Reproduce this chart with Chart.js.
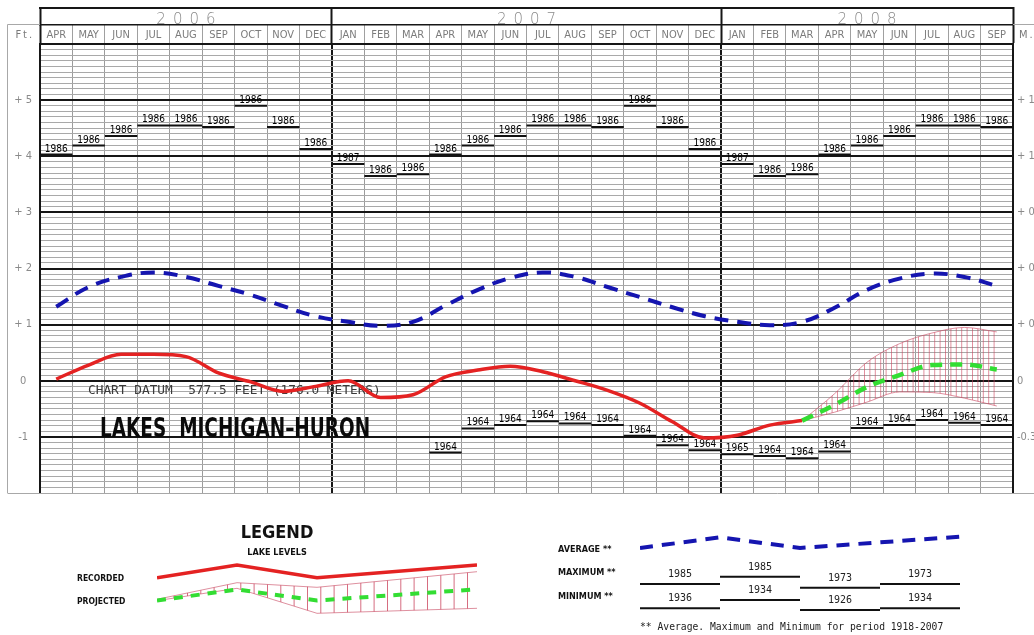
<!DOCTYPE html>
<html>
<head>
<meta charset="utf-8">
<script src="https://cdn.jsdelivr.net/npm/chart.js@4.4.1/dist/chart.umd.min.js"></script>
<style>
html, body { margin: 0; padding: 0; background: #fff; }
#wrap { position: relative; width: 1034px; height: 635px; overflow: hidden; background: #fff; }
canvas { position: absolute; }
.lg { position: absolute; white-space: nowrap; line-height: 1; color: #111;
      font-family: "Liberation Sans Narrow", "DejaVu Sans Condensed", Arial, sans-serif; font-weight: bold; }
.note { position: absolute; white-space: nowrap; line-height: 1; color: #222;
      font-family: "DejaVu Sans Mono", monospace; font-size: 9.7px; }
</style>
</head>
<body>
<div id="wrap">
  <canvas id="main" width="1034" height="635" style="left:0;top:0"></canvas>
  <canvas id="legL" width="340" height="65" style="left:147px;top:555px"></canvas>
  <canvas id="legR" width="340" height="95" style="left:630px;top:525px"></canvas>

  <div class="lg" style="left:177px;width:200px;text-align:center;top:522.5px;font-size:18px;">LEGEND</div>
  <div class="lg" style="left:177px;width:200px;text-align:center;top:547.6px;font-size:9px;">LAKE LEVELS</div>
  <div class="lg" style="left:77px;top:573.8px;font-size:8.5px;">RECORDED</div>
  <div class="lg" style="left:77px;top:596.8px;font-size:8.5px;">PROJECTED</div>
  <div class="lg" style="left:558px;top:544.6px;font-size:9px;">AVERAGE **</div>
  <div class="lg" style="left:558px;top:568.1px;font-size:9px;">MAXIMUM **</div>
  <div class="lg" style="left:558px;top:591.6px;font-size:9px;">MINIMUM **</div>
  <div class="note" style="left:640px;top:622px;">** Average. Maximum and Minimum for period 1918-2007</div>
</div>

<script>
// ---------------- DATA ----------------
const months = ['APR','MAY','JUN','JUL','AUG','SEP','OCT','NOV','DEC',
                'JAN','FEB','MAR','APR','MAY','JUN','JUL','AUG','SEP','OCT','NOV','DEC',
                'JAN','FEB','MAR','APR','MAY','JUN','JUL','AUG','SEP'];
const years = ['2006', '2007', '2008'];
const yearStartIdx = [0, 9, 21];

const feetTicks   = [-1, 0, 1, 2, 3, 4, 5];
const feetLabels  = ['-1', '0', '+ 1', '+ 2', '+ 3', '+ 4', '+ 5'];
const meterLabels = ['-0.30', '0', '+ 0.30', '+ 0.61', '+ 0.91', '+ 1.22', '+ 1.52'];

// long-term average (blue dashed), one value per month
const average = [1.32, 1.67, 1.85, 1.93, 1.85, 1.69, 1.53, 1.33, 1.15,
                 1.05, 0.98, 1.05, 1.34, 1.62, 1.83, 1.93, 1.85, 1.67, 1.49, 1.31, 1.15,
                 1.05, 0.99, 1.05, 1.30, 1.62, 1.82, 1.91, 1.85, 1.69];

// recorded levels (red), Apr 2006 .. Mar 2008
const recorded = [0.03, 0.28, 0.47, 0.47, 0.43, 0.14, -0.02, -0.19, -0.10,
                  0.00, -0.30, -0.25, 0.07, 0.19, 0.26, 0.16, 0.00, -0.17, -0.40, -0.73, -1.02,
                  -0.97, -0.79, -0.71];

// projection, Mar 2008 .. Sep 2008
const projStartIdx = 23;
const projected = [-0.71, -0.43, -0.11, 0.10, 0.28, 0.29, 0.20];
const projUpper = [-0.71, -0.23, 0.33, 0.66, 0.85, 0.95, 0.87];
const projLower = [-0.71, -0.56, -0.38, -0.20, -0.21, -0.31, -0.45];

// record maximum / minimum per month
const maxLevels = [4.03, 4.19, 4.36, 4.55, 4.55, 4.52, 4.90, 4.52, 4.13,
                   3.86, 3.65, 3.68, 4.03, 4.19, 4.36, 4.55, 4.55, 4.52, 4.90, 4.52, 4.13,
                   3.86, 3.65, 3.68, 4.03, 4.19, 4.36, 4.55, 4.55, 4.52];
const maxYears = ['1986','1986','1986','1986','1986','1986','1986','1986','1986',
                  '1987','1986','1986','1986','1986','1986','1986','1986','1986','1986','1986','1986',
                  '1987','1986','1986','1986','1986','1986','1986','1986','1986'];
const minLevels = [null, null, null, null, null, null, null, null, null,
                   null, null, null, -1.28, -0.85, -0.79, -0.72, -0.76, -0.79, -0.98, -1.15, -1.24,
                   -1.31, -1.34, -1.38, -1.26, -0.84, -0.79, -0.70, -0.75, -0.79];
const minYears = ['', '', '', '', '', '', '', '', '',
                  '', '', '', '1964','1964','1964','1964','1964','1964','1964','1964','1964',
                  '1965','1964','1964','1964','1964','1964','1964','1964','1964'];

// legend samples
const legendX          = [0, 1, 2, 4];
const legendRecorded   = [37.3, 50, 37.3, 50];
const legendProjected  = [14.5, 25.5, 14.5, 25.7];
const legendProjUpper  = [15.7, 32.3, 27.7, 43.3];
const legendProjLower  = [14.3, 26.7, 1.7, 6.7];
const legendAvgX       = [0, 1, 2, 4];
const legendAverage    = [72, 82.7, 72, 83.3];
const legendMax        = [36, 43.3, 32.3, 36];
const legendMaxYears   = ['1985', '1985', '1973', '1973'];
const legendMin        = [11.7, 20, 10, 11.7];
const legendMinYears   = ['1936', '1934', '1926', '1934'];

// ---------------- STYLE ----------------
const NARROW = '"Liberation Sans Narrow", "DejaVu Sans Condensed", Arial, sans-serif';
const COND = '"DejaVu Sans Condensed", "DejaVu Sans", sans-serif';
const RED = '#e42222', BLUE = '#1515b0', GREEN = '#33dd33', PINK = 'rgba(200,70,95,0.6)';
const MAJOR = '#161616', MINOR = '#a9a9a9';

function hatch(ctx, period, count, color, h) {
  const c = document.createElement('canvas');
  c.width = Math.round(period * count); c.height = h;
  const g = c.getContext('2d');
  g.strokeStyle = color; g.lineWidth = 1;
  for (let k = 0; k < count; k++) {
    const x = k * period + 0.5;
    g.beginPath(); g.moveTo(x, 0); g.lineTo(x, h); g.stroke();
  }
  return ctx.createPattern(c, 'repeat');
}

function segPoints(levels) {
  const pts = [];
  levels.forEach((v, i) => {
    if (v === null) return;
    pts.push({x: i, y: v}, {x: i + 1, y: v}, {x: i + 1, y: null});
  });
  return pts;
}

const yearBoundaries = yearStartIdx.concat([months.length]);
const yearCenters = yearStartIdx.map((s, i) => (s + yearBoundaries[i + 1]) / 2);
const isBoundary = v => yearBoundaries.some(b => Math.abs(b - v) < 1e-6);
const isMajorFt = v => Math.abs(v - Math.round(v)) < 1e-6 && v >= -1.001 && v <= 5.001;

// ---------------- PLUGINS ----------------
const textPlugin = {
  id: 'chartTexts',
  beforeDatasetsDraw(chart) {
    const {ctx, scales: {x, y}} = chart;
    ctx.save();
    // chart datum note
    ctx.font = '12.8px "DejaVu Sans Mono", monospace';
    ctx.fillStyle = '#3a3a3a';
    ctx.textAlign = 'left'; ctx.textBaseline = 'middle';
    ctx.fillText('CHART DATUM  577.5 FEET (176.0 METERS)', x.getPixelForValue(1.48), y.getPixelForValue(-0.18));
    // title
    ctx.font = 'bold 26px ' + NARROW;
    ctx.fillStyle = '#0a0a0a';
    ctx.textBaseline = 'alphabetic';
    const title = 'LAKES  MICHIGAN\u2013HURON';
    const x0 = x.getPixelForValue(1.85), x1 = x.getPixelForValue(10.18);
    const w = ctx.measureText(title).width;
    ctx.translate(x0, y.getPixelForValue(-1.0));
    ctx.scale((x1 - x0) / w, 1);
    ctx.fillText(title, 0, 0);
    ctx.restore();

    // year labels of max / min segments
    ctx.save();
    ctx.font = '10px ' + NARROW;
    ctx.fillStyle = '#000';
    ctx.textAlign = 'center'; ctx.textBaseline = 'alphabetic';
    maxLevels.forEach((v, i) => {
      if (v === null) return;
      ctx.fillText(maxYears[i], x.getPixelForValue(i + 0.5), y.getPixelForValue(v) - 3);
    });
    minLevels.forEach((v, i) => {
      if (v === null) return;
      ctx.fillText(minYears[i], x.getPixelForValue(i + 0.5), y.getPixelForValue(v) - 3);
    });
    ctx.restore();
  }
};

const framePlugin = {
  id: 'frame',
  afterLayout(chart) {
    const s = chart.scales.xYear;
    if (s && !s._lsPatched) {
      const orig = s.drawLabels;
      s.drawLabels = function (ca) {
        this.ctx.save();
        this.ctx.letterSpacing = '7px';
        this.ctx.translate(3.5, 0);
        orig.call(this, ca);
        this.ctx.restore();
      };
      s._lsPatched = true;
    }
  },
  afterDraw(chart) {
    const {ctx, chartArea: ca, scales} = chart;
    const yr = scales.xYear;
    const W = chart.width;
    const fx = 7.5;
    ctx.save();
    ctx.strokeStyle = MAJOR; ctx.lineWidth = 2;
    ctx.beginPath(); ctx.moveTo(ca.left - 1, yr.top + 1); ctx.lineTo(ca.right + 1, yr.top + 1); ctx.stroke();
    ctx.strokeStyle = '#a8a8a8'; ctx.lineWidth = 1;
    ctx.beginPath();
    ctx.moveTo(fx, ca.bottom); ctx.lineTo(fx, yr.bottom - 0.5); ctx.lineTo(ca.left, yr.bottom - 0.5);
    ctx.moveTo(ca.right, yr.bottom - 0.5); ctx.lineTo(W, yr.bottom - 0.5);
    ctx.moveTo(fx, ca.bottom + 0.5); ctx.lineTo(W, ca.bottom + 0.5);
    ctx.stroke();
    ctx.font = '11px ' + COND;
    ctx.fillStyle = '#7a7a7a';
    ctx.textBaseline = 'middle';
    ctx.textAlign = 'center';
    ctx.letterSpacing = '2px';
    ctx.fillText('Ft.', (fx + ca.left) / 2 + 1, (yr.bottom + ca.top) / 2 + 1);
    ctx.textAlign = 'left';
    ctx.fillText('M.', ca.right + 6, (yr.bottom + ca.top) / 2 + 1);
    ctx.restore();
  }
};

// ---------------- MAIN CHART ----------------
const mainCanvas = document.getElementById('main');
const mainCtx = mainCanvas.getContext('2d');
const hatchMain = hatch(mainCtx, 5.4, 5, 'rgba(205,70,95,0.6)', 4);

new Chart(mainCanvas, {
  type: 'line',
  data: {
    datasets: [
      { label: 'Recorded', xAxisID: 'x', yAxisID: 'y', order: 1,
        data: recorded.map((v, i) => ({x: i + 0.5, y: v})),
        borderColor: RED, borderWidth: 3.5, pointRadius: 0, cubicInterpolationMode: 'monotone', fill: false },
      { label: 'Projected', xAxisID: 'x', yAxisID: 'y', order: 0,
        data: projected.map((v, i) => ({x: projStartIdx + i + 0.5, y: v})),
        borderColor: GREEN, borderWidth: 4.5, borderDash: [12, 8], pointRadius: 0, cubicInterpolationMode: 'monotone', fill: false },
      { label: 'Average', xAxisID: 'x', yAxisID: 'y', order: 2,
        data: average.map((v, i) => ({x: i + 0.5, y: v})),
        borderColor: BLUE, borderWidth: 4, borderDash: [14, 9], pointRadius: 0, tension: 0.4, fill: false },
      { label: 'Projection range upper', xAxisID: 'x', yAxisID: 'y', order: 4,
        data: projUpper.map((v, i) => ({x: projStartIdx + i + 0.5, y: v})),
        borderColor: PINK, borderWidth: 1, pointRadius: 0, cubicInterpolationMode: 'monotone',
        fill: '+1', backgroundColor: hatchMain },
      { label: 'Projection range lower', xAxisID: 'x', yAxisID: 'y', order: 4,
        data: projLower.map((v, i) => ({x: projStartIdx + i + 0.5, y: v})),
        borderColor: PINK, borderWidth: 1, pointRadius: 0, cubicInterpolationMode: 'monotone', fill: false },
      { label: 'Maximum', xAxisID: 'x', yAxisID: 'y', order: 3,
        data: segPoints(maxLevels), borderColor: '#111', borderWidth: 2, pointRadius: 0, tension: 0, fill: false, spanGaps: false },
      { label: 'Minimum', xAxisID: 'x', yAxisID: 'y', order: 3,
        data: segPoints(minLevels), borderColor: '#111', borderWidth: 2, pointRadius: 0, tension: 0, fill: false, spanGaps: false }
    ]
  },
  options: {
    responsive: false, animation: false, events: [],
    layout: { padding: { top: 7, bottom: 142, left: 0, right: 0 } },
    plugins: { legend: { display: false }, tooltip: { enabled: false }, title: { display: false } },
    scales: {
      x: {
        type: 'linear', position: 'bottom', min: 0, max: months.length,
        ticks: { stepSize: 1, display: false, padding: 0 },
        border: { display: false },
        grid: { drawTicks: false,
                color: c => isBoundary(c.tick.value) ? MAJOR : '#9c9c9c',
                lineWidth: c => isBoundary(c.tick.value) ? 2 : 1 },
        afterFit: s => { s.height = 0; }
      },
      xYear: {
        type: 'linear', position: 'top', min: 0, max: months.length, weight: 10,
        afterBuildTicks: s => { s.ticks = yearBoundaries.concat(yearCenters).sort((a, b) => a - b).map(v => ({value: v})); },
        ticks: { autoSkip: false, maxRotation: 0, padding: -22, color: '#8a8a8a',
                 font: { family: '"DejaVu Sans", sans-serif', size: 15, weight: 200 },
                 callback: v => { const k = yearCenters.findIndex(c => Math.abs(c - v) < 1e-6); return k >= 0 ? years[k] : ''; } },
        grid: { drawOnChartArea: false, tickLength: 18,
                tickColor: c => isBoundary(c.tick.value) ? MAJOR : 'rgba(0,0,0,0)', tickWidth: 2 },
        border: { display: true, color: MAJOR, width: 1.5 },
        afterFit: s => { s.height = 18; }
      },
      xMonth: {
        type: 'category', labels: months, position: 'top', offset: true, weight: 5,
        ticks: { autoSkip: false, maxRotation: 0, padding: -17, color: '#7c7c7c',
                 font: { family: COND, size: 11 } },
        grid: { offset: true, drawOnChartArea: false, tickLength: 19,
                tickColor: c => (c.index === undefined || yearStartIdx.includes(c.index)) ? MAJOR : '#a0a0a0',
                tickWidth: c => (c.index === undefined || yearStartIdx.includes(c.index)) ? 2 : 1 },
        border: { display: true, color: MAJOR, width: 2 },
        afterFit: s => { s.height = 19; }
      },
      y: {
        type: 'linear', position: 'left', min: -2, max: 6,
        ticks: { stepSize: 0.1, autoSkip: false, padding: 8, crossAlign: 'center', color: '#8a8a8a',
                 font: { family: COND, size: 11 },
                 callback: v => { const k = feetTicks.findIndex(t => Math.abs(t - v) < 1e-6); return k >= 0 ? feetLabels[k] : ''; } },
        grid: { drawTicks: false,
                color: c => isMajorFt(c.tick.value) ? MAJOR : (Math.abs(c.tick.value + 2) < 1e-6 ? 'rgba(0,0,0,0)' : MINOR),
                lineWidth: c => isMajorFt(c.tick.value) ? 2 : 1 },
        border: { display: true, color: MAJOR, width: 2 },
        afterFit: s => { s.width = 40; }
      },
      y2: {
        type: 'linear', position: 'right', min: -2, max: 6,
        afterBuildTicks: s => { s.ticks = feetTicks.map(v => ({value: v})); },
        ticks: { autoSkip: false, padding: 4, color: '#8a8a8a', font: { family: COND, size: 11 },
                 callback: (v, i) => meterLabels[i] },
        grid: { drawOnChartArea: false, drawTicks: false },
        border: { display: true, color: MAJOR, width: 2 },
        afterFit: s => { s.width = 21; }
      }
    }
  },
  plugins: [textPlugin, framePlugin]
});

// ---------------- LEGEND (left) ----------------
const legLCanvas = document.getElementById('legL');
const hatchLeg = hatch(legLCanvas.getContext('2d'), 13.3, 3, 'rgba(200,60,85,0.75)', 4);
new Chart(legLCanvas, {
  type: 'line',
  data: {
    datasets: [
      { data: legendX.map((x, i) => ({x, y: legendRecorded[i]})), borderColor: RED, borderWidth: 3.5, pointRadius: 0, tension: 0 },
      { data: legendX.map((x, i) => ({x, y: legendProjected[i]})), borderColor: GREEN, borderWidth: 4, borderDash: [9, 8], pointRadius: 0, tension: 0 },
      { data: legendX.map((x, i) => ({x, y: legendProjUpper[i]})), borderColor: PINK, borderWidth: 1, pointRadius: 0, tension: 0, fill: '+1', backgroundColor: hatchLeg },
      { data: legendX.map((x, i) => ({x, y: legendProjLower[i]})), borderColor: PINK, borderWidth: 1, pointRadius: 0, tension: 0 }
    ]
  },
  options: {
    responsive: false, animation: false, events: [],
    layout: { padding: { left: 10, right: 10, top: 5, bottom: 5 } },
    plugins: { legend: { display: false }, tooltip: { enabled: false } },
    scales: { x: { type: 'linear', min: 0, max: 4, display: false }, y: { type: 'linear', min: 0, max: 55, display: false } }
  }
});

// ---------------- LEGEND (right) ----------------
const legendLabelPlugin = {
  id: 'legendYears',
  afterDatasetsDraw(chart) {
    const {ctx, scales: {x, y}} = chart;
    ctx.save();
    ctx.font = '10px "DejaVu Sans Mono", monospace';
    ctx.fillStyle = '#222';
    ctx.textAlign = 'center'; ctx.textBaseline = 'alphabetic';
    legendMax.forEach((v, i) => ctx.fillText(legendMaxYears[i], x.getPixelForValue(i + 0.5), y.getPixelForValue(v) - 7));
    legendMin.forEach((v, i) => ctx.fillText(legendMinYears[i], x.getPixelForValue(i + 0.5), y.getPixelForValue(v) - 7));
    ctx.restore();
  }
};
new Chart(document.getElementById('legR'), {
  type: 'line',
  data: {
    datasets: [
      { data: legendAvgX.map((x, i) => ({x, y: legendAverage[i]})), borderColor: BLUE, borderWidth: 4, borderDash: [13, 9], pointRadius: 0, tension: 0 },
      { data: segPoints(legendMax), borderColor: '#111', borderWidth: 2, pointRadius: 0, tension: 0, spanGaps: false },
      { data: segPoints(legendMin), borderColor: '#111', borderWidth: 2, pointRadius: 0, tension: 0, spanGaps: false }
    ]
  },
  options: {
    responsive: false, animation: false, events: [],
    layout: { padding: { left: 10, right: 10, top: 5, bottom: 5 } },
    plugins: { legend: { display: false }, tooltip: { enabled: false } },
    scales: { x: { type: 'linear', min: 0, max: 4, display: false }, y: { type: 'linear', min: 5, max: 90, display: false } }
  },
  plugins: [legendLabelPlugin]
});
</script>
</body>
</html>
